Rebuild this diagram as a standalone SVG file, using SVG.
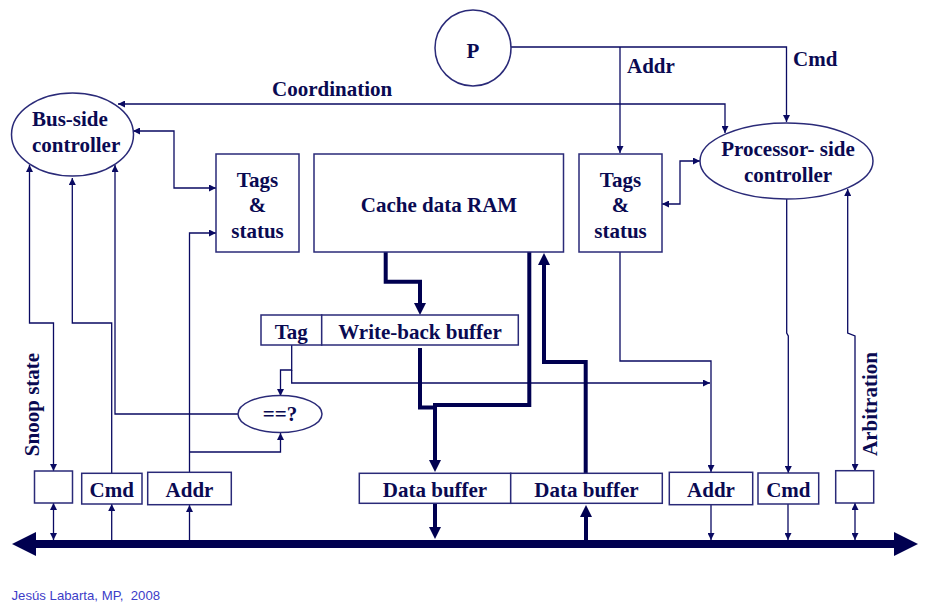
<svg xmlns="http://www.w3.org/2000/svg" width="938" height="613" viewBox="0 0 938 613">
  <style>
    .lbl { font-family: "Liberation Serif", "Times New Roman", serif; font-weight: bold; font-size: 21px; fill: #0a0a52; }
    .mid { text-anchor: middle; }
    .box { fill: #ffffff; stroke: #2a2a78; stroke-width: 1.5; }
    .wire { fill: none; stroke: #0a0a62; stroke-width: 1.3; }
    .data { fill: none; stroke: #000050; stroke-width: 4; }
    .foot { font-family: "Liberation Sans", Arial, sans-serif; font-size: 13.2px; fill: #3c3cc8; white-space: pre; }
  </style>
  <defs>
    <marker id="ah" viewBox="0 0 8 8" refX="8" refY="4" markerWidth="7" markerHeight="7" markerUnits="userSpaceOnUse" orient="auto-start-reverse">
      <path d="M0,0 L8,4 L0,8 z" fill="#0a0a62"/>
    </marker>
    <marker id="bh" viewBox="0 0 12 12" refX="6" refY="6" markerWidth="12" markerHeight="12" markerUnits="userSpaceOnUse" orient="auto-start-reverse">
      <path d="M0,0 L12,6 L0,12 z" fill="#000050"/>
    </marker>
  </defs>

  <!-- system bus -->
  <g id="bus">
    <rect x="34" y="540" width="862" height="8" fill="#000050"/>
    <polygon points="12,544 36,532 36,556" fill="#000050"/>
    <polygon points="918,544 894,532 894,556" fill="#000050"/>
  </g>

  <!-- connectors -->
  <g id="connectors">
    <!-- processor outputs -->
    <path class="wire" d="M510,47 H786.5 V122" marker-end="url(#ah)"/>
    <path class="wire" d="M620,47 V153" marker-end="url(#ah)"/>
    <path class="wire" d="M118,104 H725 V133" marker-start="url(#ah)" marker-end="url(#ah)"/>
    <!-- bus-side controller links -->
    <path class="wire" d="M133,131 H174 V188 H216" marker-start="url(#ah)" marker-end="url(#ah)"/>
    <path class="wire" d="M29.5,165 V323 H53.5 V471" marker-start="url(#ah)" marker-end="url(#ah)"/>
    <path class="wire" d="M111.7,473 V323 H72.3 V178" marker-end="url(#ah)"/>
    <path class="wire" d="M238,414 H115 V165" marker-end="url(#ah)"/>
    <path class="wire" d="M189.5,472 V233 H216" marker-end="url(#ah)"/>
    <path class="wire" d="M189.5,452 H280.5 V433" marker-end="url(#ah)"/>
    <!-- write-back tag -->
    <path class="wire" d="M291.7,345 V370 H280.5 V396" marker-end="url(#ah)"/>
    <path class="wire" d="M291.7,370 V383 H710" marker-end="url(#ah)"/>
    <!-- processor-side links -->
    <path class="wire" d="M620,252 V361 H711 V472" marker-end="url(#ah)"/>
    <path class="wire" d="M700,161 H680 V204 H662" marker-start="url(#ah)" marker-end="url(#ah)"/>
    <path class="wire" d="M786.7,199 V333 L788.3,336 V473" marker-end="url(#ah)"/>
    <path class="wire" d="M847.7,189 V333 L855,336 V471" marker-start="url(#ah)" marker-end="url(#ah)"/>
    <!-- bus taps -->
    <path class="wire" d="M53.5,503 V540" marker-start="url(#ah)" marker-end="url(#ah)"/>
    <path class="wire" d="M111.7,540 V504" marker-end="url(#ah)"/>
    <path class="wire" d="M189.5,540 V505" marker-end="url(#ah)"/>
    <path class="wire" d="M711,505 V540" marker-end="url(#ah)"/>
    <path class="wire" d="M788,504 V540" marker-end="url(#ah)"/>
    <path class="wire" d="M855,503 V540" marker-start="url(#ah)" marker-end="url(#ah)"/>
    <!-- data paths -->
    <path class="data" d="M385.7,252 V281.7 H420 V309" marker-end="url(#bh)"/>
    <path class="data" d="M420,348 V407.5 H437"/>
    <path class="data" d="M529.3,252 V405 H435 V466" marker-end="url(#bh)"/>
    <path class="data" d="M585.7,473 V362 H544 V259" marker-end="url(#bh)"/>
    <path class="data" d="M435,504 V533" marker-end="url(#bh)"/>
    <path class="data" d="M586,540 V511" marker-end="url(#bh)"/>
  </g>

  <g id="processor">
    <circle class="box" cx="473" cy="48" r="38" stroke-width="1.2"/>
    <text class="lbl mid" x="473" y="58">P</text>
  </g>
  <text class="lbl" x="627" y="73">Addr</text>
  <text class="lbl" x="793" y="66">Cmd</text>
  <text class="lbl" x="272" y="96">Coordination</text>

  <g id="bus-side-controller">
    <ellipse class="box" cx="72.5" cy="134.5" rx="61" ry="41.5" stroke-width="1.2"/>
    <text class="lbl" x="32" y="126">Bus-side</text>
    <text class="lbl" x="32" y="152">controller</text>
  </g>

  <g id="processor-side-controller">
    <ellipse class="box" cx="786.5" cy="161" rx="86.5" ry="38" stroke-width="1.2"/>
    <text class="lbl mid" x="788" y="156">Processor- side</text>
    <text class="lbl mid" x="788" y="182">controller</text>
  </g>

  <g id="tags-bus">
    <rect class="box" x="216" y="154" width="83" height="98"/>
    <text class="lbl mid" x="257.5" y="187">Tags</text>
    <text class="lbl mid" x="257.5" y="212">&amp;</text>
    <text class="lbl mid" x="257.5" y="238">status</text>
  </g>

  <g id="cache-data-ram">
    <rect class="box" x="314" y="154" width="249.5" height="98"/>
    <text class="lbl mid" x="439" y="212">Cache data RAM</text>
  </g>

  <g id="tags-proc">
    <rect class="box" x="579" y="154" width="83" height="98"/>
    <text class="lbl mid" x="620.5" y="187">Tags</text>
    <text class="lbl mid" x="620.5" y="212">&amp;</text>
    <text class="lbl mid" x="620.5" y="238">status</text>
  </g>

  <g id="write-back-buffer">
    <rect class="box" x="261" y="315" width="60.7" height="30"/>
    <text class="lbl mid" x="291.3" y="339">Tag</text>
    <rect class="box" x="321.7" y="315" width="196.6" height="30"/>
    <text class="lbl mid" x="420" y="339">Write-back buffer</text>
  </g>

  <g id="comparator">
    <ellipse class="box" cx="280" cy="414" rx="42" ry="18.5" stroke-width="1.2"/>
    <text class="lbl mid" x="280" y="421">==?</text>
  </g>

  <g id="snoop-state">
    <rect class="box" x="34.5" y="471" width="38" height="32"/>
    <text class="lbl mid" transform="translate(39,404.5) rotate(-90)">Snoop state</text>
  </g>
  <g id="bus-cmd">
    <rect class="box" x="81.7" y="473.3" width="60.3" height="30.7"/>
    <text class="lbl mid" x="111.7" y="497">Cmd</text>
  </g>
  <g id="bus-addr">
    <rect class="box" x="147.7" y="472.3" width="83.6" height="32.4"/>
    <text class="lbl mid" x="189.5" y="497">Addr</text>
  </g>
  <g id="data-buffer-out">
    <rect class="box" x="359.3" y="473.3" width="151.4" height="30"/>
    <text class="lbl mid" x="435" y="496.5">Data buffer</text>
  </g>
  <g id="data-buffer-in">
    <rect class="box" x="510.7" y="473.3" width="151.6" height="30"/>
    <text class="lbl mid" x="586.5" y="496.5">Data buffer</text>
  </g>
  <g id="proc-addr">
    <rect class="box" x="669.3" y="472.3" width="83.4" height="32.4"/>
    <text class="lbl mid" x="711" y="497">Addr</text>
  </g>
  <g id="proc-cmd">
    <rect class="box" x="758" y="473" width="60.7" height="31"/>
    <text class="lbl mid" x="788.3" y="497">Cmd</text>
  </g>
  <g id="arbitration">
    <rect class="box" x="835.7" y="470.7" width="38" height="32.3"/>
    <text class="lbl mid" transform="translate(876.5,404) rotate(-90)">Arbitration</text>
  </g>

  <text class="foot" x="11.5" y="600">Jesús Labarta, MP,  2008</text>
</svg>
